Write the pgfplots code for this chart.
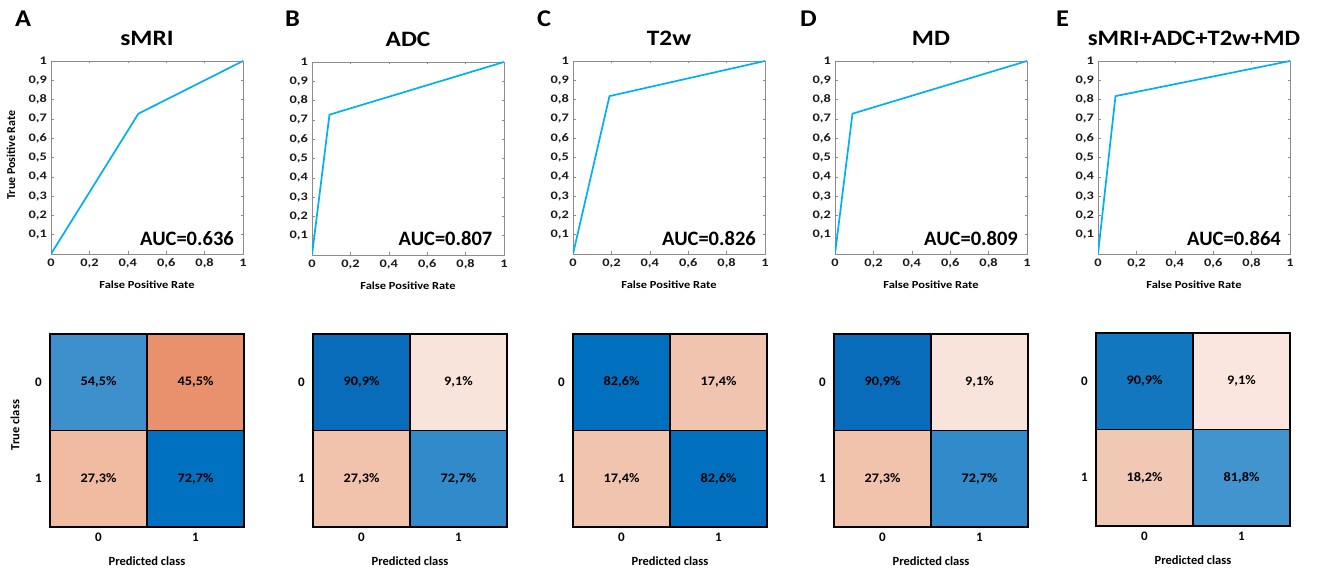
\documentclass[border=0pt]{standalone}
\usepackage{fontspec}
\setmainfont{Carlito}
\usepackage{graphicx}
\usepackage{pgfplots}
\pgfplotsset{compat=1.18}
\definecolor{rocblue}{RGB}{0,176,240}
\newcommand\sx[2]{\scalebox{#1}[1]{#2}}
\newcommand\fs[1]{\fontsize{#1}{#1}\selectfont\bfseries}
\pgfplotsset{
 roc/.style={
  scale only axis, width=192pt, height=193pt,
  xmin=0,xmax=1,ymin=0,ymax=1,
  xtick={0,0.2,0.4,0.6,0.8,1}, ytick={0.1,0.2,0.3,0.4,0.5,0.6,0.7,0.8,0.9,1},
  /pgf/number format/use comma, /pgf/number format/assume math mode=true,
  xticklabel={\sx{1.25}{\pgfmathprintnumber{\tick}}},
  yticklabel={\sx{1.25}{\pgfmathprintnumber{\tick}}},
  tick label style={font=\fs{11.5}, text=black!90, inner sep=0pt},
  xticklabel style={anchor=base, yshift=-13pt},
  yticklabel style={anchor=east, xshift=-4pt},
  axis line style={draw=black!45, line width=0.6pt},
  tick style={draw=black!45, line width=0.5pt},
  major tick length=2.5pt, tick align=inside,
  title style={font=\fs{22}, at={(axis description cs:0.5,1)}, anchor=base, yshift=9pt},
  xlabel={\sx{1.15}{False Positive Rate}},
  xlabel style={font=\fs{10.8}, at={(axis description cs:0.5,0)}, anchor=base, yshift=-34.7pt},
 },
 rocline/.style={draw=rocblue, line width=1.7pt, mark=none},
 cm/.style={
  scale only axis, width=194pt, height=193pt,
  xmin=-0.5,xmax=1.5,ymin=-0.5,ymax=1.5,
  xtick={0,1}, ytick={0,1}, xticklabels={0,1}, yticklabels={1,0},
  major tick length=0pt,
  axis line style={line width=1.8pt}, axis on top,
  tick label style={font=\fs{13}, inner sep=0pt},
  xticklabel style={anchor=base, yshift=-14pt},
  yticklabel style={anchor=east, xshift=-8pt},
  xlabel={Predicted class},
  xlabel style={font=\fs{12.5}, at={(axis description cs:0.5,0)}, anchor=base, yshift=-38pt},
 },
 cmcol/.style={matrix plot*, mesh/cols=2, mesh/color input=explicit, point meta=explicit symbolic},
 cmlab/.style={draw=none, mark=none, nodes near coords={\sx{1.1}{\pgfplotspointmeta}}, point meta=explicit symbolic,
   every node near coord/.append style={anchor=center, font=\fs{13}, text=black}},
}
\newcommand\cmgrid{\draw[line width=1.8pt] (axis cs:0.5,-0.5) -- (axis cs:0.5,1.5);
  \draw[line width=1.8pt] (axis cs:-0.5,0.5) -- (axis cs:1.5,0.5);}
\begin{document}
\begin{tikzpicture}
\path[use as bounding box] (0,0) rectangle (1317pt,573pt);
% panel letters
\node[anchor=base west, font=\fs{24}, inner sep=0pt] at (15pt,546pt) {\sx{1.1}{A}};
\node[anchor=base west, font=\fs{24}, inner sep=0pt] at (285pt,546pt) {\sx{1.1}{B}};
\node[anchor=base west, font=\fs{24}, inner sep=0pt] at (537pt,546pt) {\sx{1.1}{C}};
\node[anchor=base west, font=\fs{24}, inner sep=0pt] at (800pt,546pt) {\sx{1.1}{D}};
\node[anchor=base west, font=\fs{24}, inner sep=0pt] at (1056pt,546pt) {\sx{1.1}{E}};
\node[rotate=90, font=\fs{12}] at (11pt,418pt) {True Positive Rate};
\node[rotate=90, font=\fs{12.5}] at (15pt,148pt) {True class};

% ---------- ROC curves ----------
\begin{axis}[roc, at={(51pt,319pt)}, anchor=south west, title={\sx{1.15}{sMRI}}]
\addplot[rocline] coordinates {(0,0) (0.455,0.727) (1,1)};
\node[anchor=base east, font=\fs{20.5}, inner sep=0pt] at (axis description cs:0.953,0.042) {AUC=0.636};
\end{axis}
\begin{axis}[roc, at={(312pt,318pt)}, anchor=south west, title={\sx{1.15}{ADC}}]
\addplot[rocline] coordinates {(0,0) (0.091,0.727) (1,1)};
\node[anchor=base east, font=\fs{20.5}, inner sep=0pt] at (axis description cs:0.94,0.05) {AUC=0.807};
\end{axis}
\begin{axis}[roc, at={(573pt,319pt)}, anchor=south west, title={\sx{1.15}{T2w}}]
\addplot[rocline] coordinates {(0,0) (0.19,0.818) (1,1)};
\node[anchor=base east, font=\fs{20.5}, inner sep=0pt] at (axis description cs:0.953,0.042) {AUC=0.826};
\end{axis}
\begin{axis}[roc, at={(835pt,319pt)}, anchor=south west, title={\sx{1.15}{MD}}]
\addplot[rocline] coordinates {(0,0) (0.091,0.727) (1,1)};
\node[anchor=base east, font=\fs{20.5}, inner sep=0pt] at (axis description cs:0.953,0.042) {AUC=0.809};
\end{axis}
\begin{axis}[roc, at={(1098pt,319pt)}, anchor=south west, title={\sx{1.12}{sMRI+ADC+T2w+MD}}]
\addplot[rocline] coordinates {(0,0) (0.091,0.818) (1,1)};
\node[anchor=base east, font=\fs{20.5}, inner sep=0pt] at (axis description cs:0.953,0.042) {AUC=0.864};
\end{axis}

% ---------- Confusion matrices ----------
\begin{axis}[cm, at={(50pt,46pt)}, anchor=south west]
\addplot[cmcol] table[meta=c]{
x y c
0 0 rgb255=240,187,160
1 0 rgb255=0,112,192
0 1 rgb255=62,144,205
1 1 rgb255=232,145,108
};
\addplot[cmlab] table[meta=l]{
x y l
0 0 27,3\%
1 0 72,7\%
0 1 54,5\%
1 1 45,5\%
};
\cmgrid
\end{axis}
\begin{axis}[cm, at={(313pt,46pt)}, anchor=south west]
\addplot[cmcol] table[meta=c]{
x y c
0 0 rgb255=241,194,172
1 0 rgb255=49,138,201
0 1 rgb255=8,108,186
1 1 rgb255=249,228,220
};
\addplot[cmlab] table[meta=l]{
x y l
0 0 27,3\%
1 0 72,7\%
0 1 90,9\%
1 1 9,1\%
};
\cmgrid
\end{axis}
\begin{axis}[cm, at={(573pt,46pt)}, anchor=south west]
\addplot[cmcol] table[meta=c]{
x y c
0 0 rgb255=241,196,175
1 0 rgb255=0,111,190
0 1 rgb255=0,111,190
1 1 rgb255=241,196,175
};
\addplot[cmlab] table[meta=l]{
x y l
0 0 17,4\%
1 0 82,6\%
0 1 82,6\%
1 1 17,4\%
};
\cmgrid
\end{axis}
\begin{axis}[cm, at={(834pt,46pt)}, anchor=south west]
\addplot[cmcol] table[meta=c]{
x y c
0 0 rgb255=241,194,172
1 0 rgb255=49,138,201
0 1 rgb255=8,108,186
1 1 rgb255=249,228,220
};
\addplot[cmlab] table[meta=l]{
x y l
0 0 27,3\%
1 0 72,7\%
0 1 90,9\%
1 1 9,1\%
};
\cmgrid
\end{axis}
\begin{axis}[cm, at={(1096pt,47pt)}, anchor=south west]
\addplot[cmcol] table[meta=c]{
x y c
0 0 rgb255=241,200,180
1 0 rgb255=65,148,206
0 1 rgb255=19,119,192
1 1 rgb255=250,230,222
};
\addplot[cmlab] table[meta=l]{
x y l
0 0 18,2\%
1 0 81,8\%
0 1 90,9\%
1 1 9,1\%
};
\cmgrid
\end{axis}
\end{tikzpicture}
\end{document}
